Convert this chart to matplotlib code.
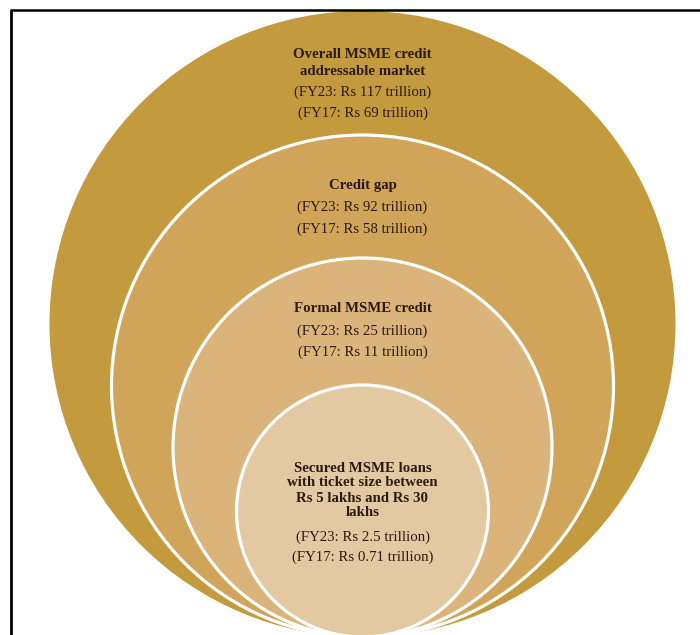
import matplotlib
matplotlib.use("Agg")
import matplotlib.pyplot as plt
from matplotlib.patches import Circle

# ---- data ----
titles = [
    ["Overall MSME credit", "addressable market"],
    ["Credit gap"],
    ["Formal MSME credit"],
    ["Secured MSME loans", "with ticket size between", "Rs 5 lakhs and Rs 30", "lakhs"],
]
fy23 = ["117", "92", "25", "2.5"]
fy17 = ["69", "58", "11", "0.71"]

# ---- layout / style ----
W, H = 700, 635
cx = 362.5
bottom = 637
tops = [11, 135, 258, 385]
fills = ["#C49A3F", "#D1A559", "#DBB47C", "#E3C9A1"]
edges = ["none", "white", "white", "white"]
title_y = [55, 185, 308, 468]
title_step = [16.7, 16, 16, 15]
val_gap = [21, 22, 23, 24]
val_step = [20.5, 22, 21, 20]

fig = plt.figure(figsize=(W / 100, H / 100), dpi=100)
ax = fig.add_axes([0, 0, 1, 1])
ax.set_xlim(0, W)
ax.set_ylim(H, 0)
ax.set_aspect("equal")
ax.axis("off")

for t, fc, ec in zip(tops, fills, edges):
    r = (bottom - t) / 2
    ax.add_patch(Circle((cx, t + r), r, facecolor=fc,
                        edgecolor=ec, linewidth=2.3 if ec != "none" else 0))

# frame (left and top only are visible)
ax.plot([11, 11], [9.5, H], color="black", lw=2.0, solid_capstyle="butt")
ax.plot([10, W], [9.8, 9.8], color="black", lw=1.8, solid_capstyle="butt")

fam = ["Liberation Serif", "DejaVu Serif"]
tc = "#2b1a12"
fs = 10.7
for i, lines in enumerate(titles):
    y = title_y[i]
    for ln in lines:
        ax.text(cx, y, ln, ha="center", va="center", fontsize=fs,
                fontweight="bold", family=fam, color=tc)
        y += title_step[i]
    y = y - title_step[i] + val_gap[i]
    ax.text(cx, y, f"(FY23: Rs {fy23[i]} trillion)", ha="center", va="center",
            fontsize=fs, family=fam, color=tc)
    y += val_step[i]
    ax.text(cx, y, f"(FY17: Rs {fy17[i]} trillion)", ha="center", va="center",
            fontsize=fs, family=fam, color=tc)

fig.savefig("out.png", dpi=100)
